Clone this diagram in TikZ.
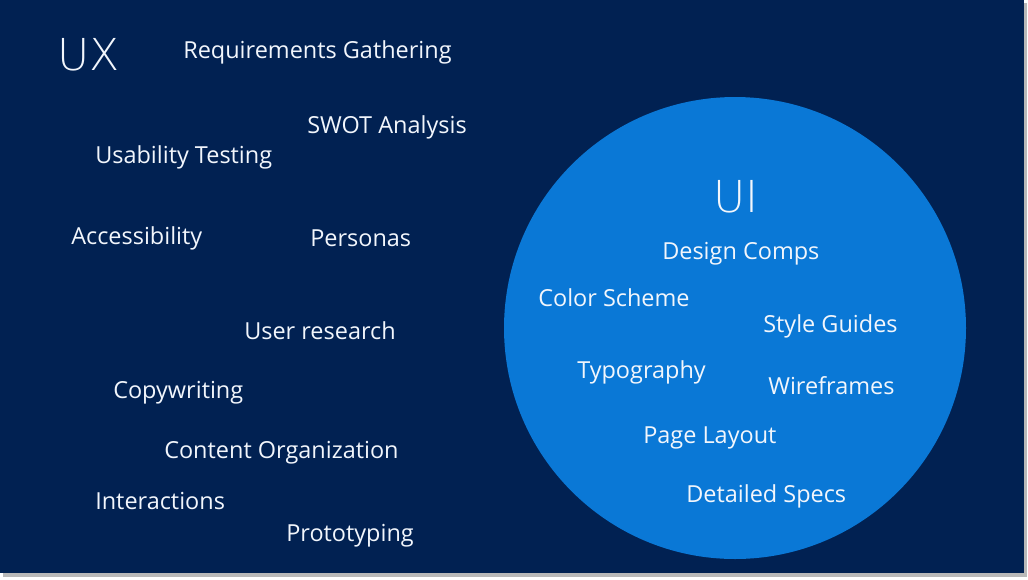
\documentclass[tikz,border=0pt]{standalone}
\usepackage{fontspec}
\setmainfont{Open Sans}
\newfontfamily\thinfont{DejaVu Sans ExtraLight}
\definecolor{navy}{HTML}{012152}
\definecolor{uiblue}{HTML}{0A78D6}
\definecolor{txt}{HTML}{F2F6FC}
\begin{document}
\begin{tikzpicture}[x=0.75pt,y=-0.75pt,
  lbl/.style={anchor=base west,inner sep=0pt,text=txt,font=\fontsize{17.6}{20}\selectfont},
  big/.style={anchor=base west,inner sep=0pt,text=txt,font=\thinfont\fontsize{33}{40}\selectfont}]
\useasboundingbox (0,0) rectangle (1028,579);
\fill[white] (0,0) rectangle (1028,579);
\fill[gray!55] (3,3) rectangle (1027,577);
\fill[navy] (0,0) rectangle (1024,573);
\fill[uiblue] (735,328) circle[radius=231];
% UX side
\node[big] (ux) at (57,70) {UX};
\node[lbl] (req) at (183,58) {Requirements Gathering};
\node[lbl] (swot) at (307,133) {SWOT Analysis};
\node[lbl] (usab) at (95,163) {Usability Testing};
\node[lbl] (acc) at (71,244) {Accessibility};
\node[lbl] (pers) at (310,246) {Personas};
\node[lbl] (ures) at (244,339) {User research};
\node[lbl] (copy) at (113,398) {Copywriting};
\node[lbl] (cont) at (164,458) {Content Organization};
\node[lbl] (inter) at (95,509) {Interactions};
\node[lbl] (proto) at (286,541) {Prototyping};
% UI side
\node[big] (ui) at (713,212) {UI};
\node[lbl] (comps) at (662,259) {Design Comps};
\node[lbl] (color) at (538,306) {Color Scheme};
\node[lbl] (style) at (763,332) {Style Guides};
\node[lbl] (typo) at (577,378) {Typography};
\node[lbl] (wire) at (768,394) {Wireframes};
\node[lbl] (page) at (643,443) {Page Layout};
\node[lbl] (spec) at (686,502) {Detailed Specs};
\end{tikzpicture}
\end{document}
